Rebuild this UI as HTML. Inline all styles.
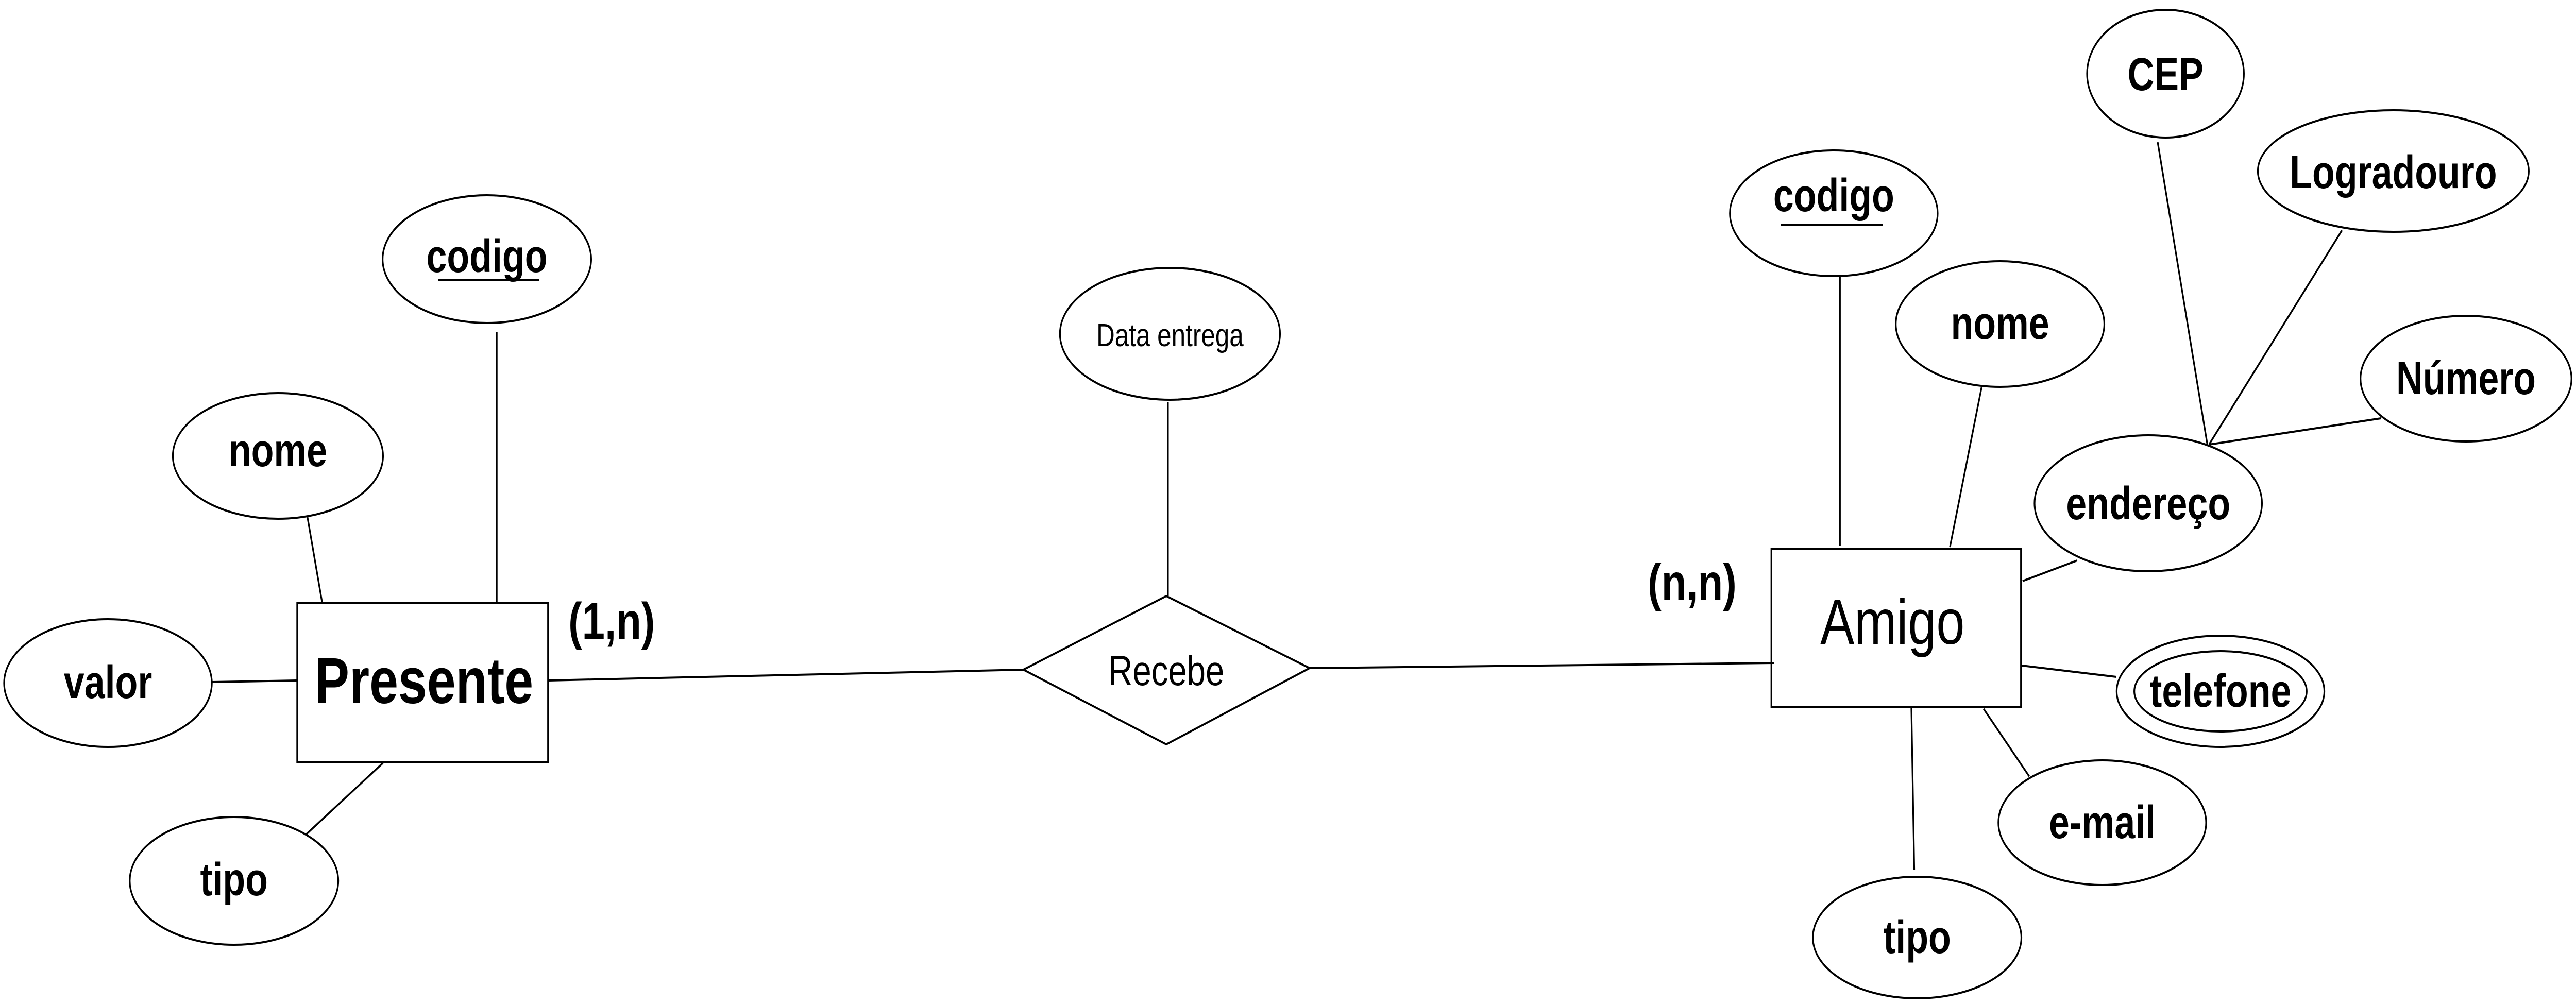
<!DOCTYPE html>
<html><head><meta charset="utf-8"><style>
html,body{margin:0;padding:0;background:#fff;width:100%;height:100%;overflow:hidden;}
svg{display:block;position:fixed;left:0;top:0;width:100vw;height:100vh;}
text{font-family:"Liberation Sans",sans-serif;fill:#000;text-anchor:middle;}
</style></head><body>
<svg viewBox="0 0 6275 1949" preserveAspectRatio="none" xmlns="http://www.w3.org/2000/svg">
<g fill="none" stroke="#000" stroke-width="4">
<line x1="1210" y1="645" x2="1210" y2="1168"/>
<line x1="749" y1="1004" x2="785" y2="1171"/>
<line x1="517" y1="1324" x2="724" y2="1321"/>
<line x1="933" y1="1481" x2="744" y2="1621"/>
<line x1="1335" y1="1321" x2="2493" y2="1300"/>
<line x1="2845" y1="780" x2="2845" y2="1157"/>
<line x1="3190" y1="1297" x2="4322" y2="1287"/>
<line x1="4482" y1="537" x2="4482" y2="1060"/>
<line x1="4827" y1="752" x2="4750" y2="1062"/>
<line x1="5256" y1="276" x2="5377" y2="863"/>
<line x1="5705" y1="447" x2="5381" y2="863"/>
<line x1="5800" y1="812" x2="5381" y2="863"/>
<line x1="5060" y1="1088" x2="4927" y2="1128"/>
<line x1="4925" y1="1292" x2="5155" y2="1314"/>
<line x1="4832" y1="1376" x2="4943" y2="1507"/>
<line x1="4656" y1="1373" x2="4663" y2="1689"/>
<ellipse cx="1186" cy="503" rx="254" ry="124"/>
<ellipse cx="677" cy="885" rx="256" ry="122"/>
<ellipse cx="263" cy="1326" rx="253" ry="124"/>
<ellipse cx="570" cy="1710" rx="254" ry="124"/>
<rect x="724" y="1170" width="611" height="309"/>
<polygon points="2493,1300 2841,1157 3190,1297 2841,1445"/>
<ellipse cx="2850" cy="648" rx="268" ry="128"/>
<rect x="4315" y="1065" width="608" height="308"/>
<ellipse cx="4467" cy="414" rx="253" ry="122"/>
<ellipse cx="4872" cy="629" rx="254" ry="122"/>
<ellipse cx="5275" cy="143" rx="191" ry="124"/>
<ellipse cx="5830" cy="332" rx="330" ry="118"/>
<ellipse cx="6007" cy="735" rx="257" ry="122"/>
<ellipse cx="5233" cy="977" rx="277" ry="132"/>
<ellipse cx="5409" cy="1342" rx="253" ry="108"/>
<ellipse cx="5409" cy="1342" rx="210" ry="78"/>
<ellipse cx="5121" cy="1597" rx="253" ry="121"/>
<ellipse cx="4670" cy="1820" rx="254" ry="118"/>
<line x1="1067" y1="544" x2="1313" y2="544"/>
<line x1="4338" y1="437" x2="4586" y2="437"/>
</g>
<g font-size="90" font-weight="bold">
<text x="1186" y="528">codigo</text>
<text x="677" y="905">nome</text>
<text x="263" y="1355">valor</text>
<text x="570" y="1738">tipo</text>
<text x="4467" y="410">codigo</text>
<text x="4872" y="658">nome</text>
<text x="5275" y="175">CEP</text>
<text x="5830" y="365">Logradouro</text>
<text x="6007" y="765">Número</text>
<text x="5233" y="1008">endereço</text>
<text x="5409" y="1372">telefone</text>
<text x="5121" y="1627">e-mail</text>
<text x="4670" y="1850">tipo</text>
<text x="2841" y="1330" font-size="82" font-weight="normal">Recebe</text>
<text x="2850" y="672" font-size="62" font-weight="normal">Data entrega</text>
<text x="1033" y="1365" font-size="126">Presente</text>
<text x="4610" y="1250" font-size="124" font-weight="normal">Amigo</text>
<text x="1490" y="1240" font-size="100">(1,n)</text>
<text x="4122" y="1165" font-size="100">(n,n)</text>
</g>
</svg>
</body></html>
